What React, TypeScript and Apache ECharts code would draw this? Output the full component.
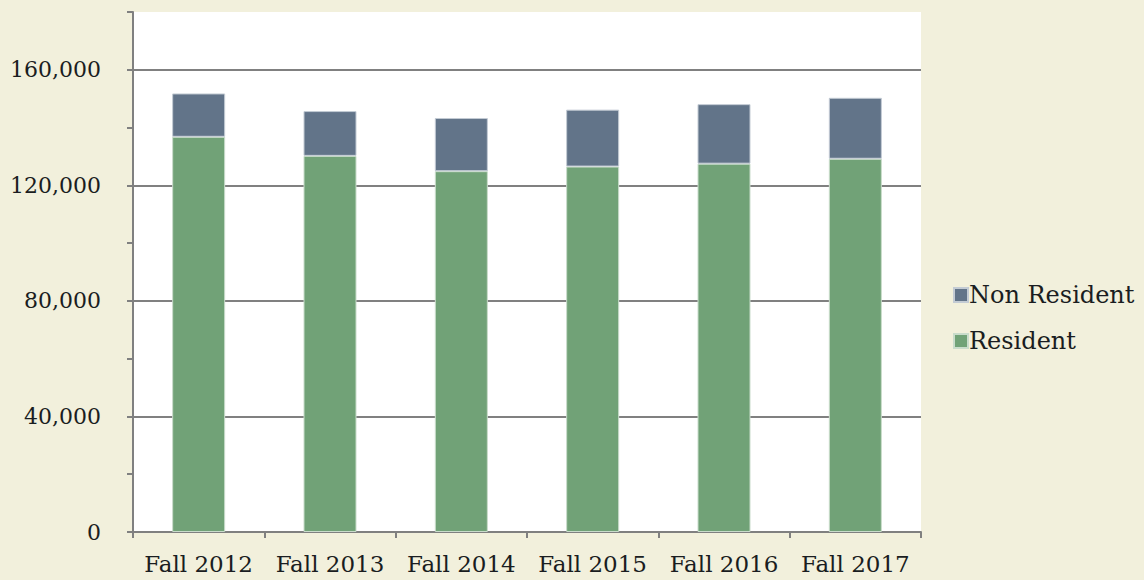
import React, { useEffect, useRef } from "react";
import * as echarts from "echarts";

const categories = ["Fall 2012", "Fall 2013", "Fall 2014", "Fall 2015", "Fall 2016", "Fall 2017"];
const residentValues = [136800, 130200, 124900, 126500, 127500, 129200];
const nonResidentValues = [15000, 15500, 18400, 19700, 20600, 21100];
const seriesNames = ["Non Resident", "Resident"];

const FONT = "'DejaVu Serif', serif";
const TEXT = "#1a1d21";
const AXIS = "#808080";

export default function App() {
  const ref = useRef<HTMLDivElement>(null);
  useEffect(() => {
    if (!ref.current) return;
    const chart = echarts.init(ref.current, undefined, { renderer: "svg" });
    chart.setOption({
      animation: false,
      backgroundColor: "#f2f0dc",
      textStyle: { fontFamily: FONT },
      grid: { left: 133, right: 223, top: 12, bottom: 48, show: true, backgroundColor: "#ffffff", borderWidth: 0 },
      legend: {
        orient: "vertical",
        left: 953,
        top: 283,
        padding: 0,
        itemWidth: 14,
        itemHeight: 14,
        itemGap: 22,
        icon: "rect",
        data: seriesNames,
        textStyle: { fontFamily: FONT, fontSize: 24, color: TEXT, padding: [0, 0, 0, -4] },
      },
      xAxis: {
        type: "category",
        data: categories,
        axisLine: { lineStyle: { color: AXIS, width: 2 } },
        axisTick: { show: true, length: 6, lineStyle: { color: AXIS, width: 2 } },
        axisLabel: { fontFamily: FONT, fontSize: 23, color: TEXT, margin: 20, interval: 0, hideOverlap: false },
      },
      yAxis: {
        type: "value",
        min: 0,
        max: 180000,
        interval: 20000,
        axisLine: { show: true, lineStyle: { color: AXIS, width: 2 } },
        axisTick: { show: true, length: 6, lineStyle: { color: AXIS, width: 2 } },
        axisLabel: {
          fontFamily: FONT,
          fontSize: 22,
          color: TEXT,
          margin: 32,
          formatter: (v: number) => (v % 40000 === 0 ? v.toLocaleString("en-US") : ""),
        },
        splitLine: { show: true, lineStyle: { color: [AXIS, "transparent"], width: 2 } },
      },
      series: [
        {
          name: "Resident",
          type: "bar",
          stack: "total",
          data: residentValues,
          barWidth: 53,
          itemStyle: { color: "#71a277", borderColor: "#c9dccb", borderWidth: 1 },
        },
        {
          name: "Non Resident",
          type: "bar",
          stack: "total",
          data: nonResidentValues,
          barWidth: 53,
          itemStyle: { color: "#627489", borderColor: "#c3cbd4", borderWidth: 1 },
        },
      ],
    });
    return () => chart.dispose();
  }, []);
  return <div ref={ref} style={{ position: "fixed", left: 0, top: 0, width: 1144, height: 580 }} />;
}
